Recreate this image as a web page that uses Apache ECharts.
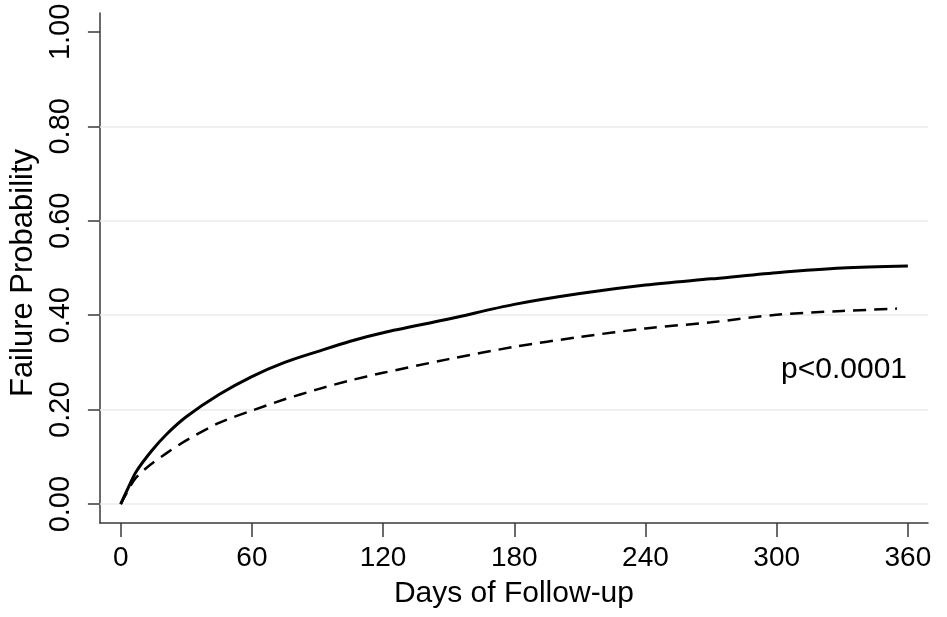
<!DOCTYPE html>
<html>
<head>
<meta charset="utf-8">
<script src="https://cdn.jsdelivr.net/npm/echarts@6/dist/echarts.min.js"></script>
<style>
  html, body { margin: 0; padding: 0; background: #fff; }
  #main { width: 947px; height: 617px; }
</style>
</head>
<body>
<div id="main"></div>
<script>
// days of follow-up and cumulative failure probability
var solidDays = [0, 3, 7, 14, 21, 30, 45, 60, 75, 90, 105, 120, 150, 180, 210, 240, 270, 300, 330, 360];
var solidProb = [0, 0.030, 0.068, 0.112, 0.148, 0.185, 0.232, 0.270, 0.300, 0.323, 0.345, 0.363, 0.392, 0.423, 0.446, 0.464, 0.477, 0.490, 0.500, 0.504];

var dashDays = [0, 3, 7, 14, 21, 30, 45, 60, 75, 90, 105, 120, 150, 180, 210, 240, 270, 300, 330, 355];
var dashProb = [0, 0.026, 0.056, 0.085, 0.108, 0.135, 0.172, 0.198, 0.222, 0.243, 0.262, 0.278, 0.307, 0.333, 0.354, 0.372, 0.385, 0.401, 0.409, 0.414];

var xTicks = [0, 60, 120, 180, 240, 300, 360];
var yTicks = [0, 0.2, 0.4, 0.6, 0.8, 1.0];
var gridValues = [0, 0.2, 0.4, 0.6, 0.8];
var pText = 'p<0.0001';

function pairs(xs, ys) {
  return xs.map(function (x, i) { return [x, ys[i]]; });
}

var FONT = '"Liberation Sans", Arial, Helvetica, sans-serif';

var chart = echarts.init(document.getElementById('main'));
chart.setOption({
  animation: false,
  backgroundColor: '#fff',
  grid: { left: 98, right: 19, top: 13, bottom: 94 },
  xAxis: {
    type: 'value',
    min: -9.5,
    max: 369.2,
    name: 'Days of Follow-up',
    nameLocation: 'middle',
    nameGap: 56,
    nameTextStyle: { fontFamily: FONT, fontSize: 30, color: '#000' },
    axisLine: { show: true, onZero: false, lineStyle: { color: '#3a3a3a', width: 1.5 } },
    axisTick: { show: true, length: 14, customValues: xTicks, lineStyle: { color: '#3a3a3a', width: 1.5 } },
    axisLabel: {
      customValues: xTicks,
      margin: 21,
      fontFamily: FONT,
      fontSize: 28,
      color: '#000'
    },
    splitLine: { show: false }
  },
  yAxis: {
    type: 'value',
    min: -0.04,
    max: 1.04,
    name: 'Failure Probability',
    nameLocation: 'middle',
    nameGap: 55,
    nameTextStyle: { fontFamily: FONT, fontSize: 31, color: '#000', padding: [0, 10, 0, 0] },
    axisLine: { show: true, onZero: false, lineStyle: { color: '#3a3a3a', width: 1.5 } },
    axisTick: { show: true, length: 12, customValues: yTicks, lineStyle: { color: '#3a3a3a', width: 1.5 } },
    axisLabel: {
      customValues: yTicks,
      rotate: 90,
      margin: 24,
      fontFamily: FONT,
      fontSize: 29,
      color: '#000',
      formatter: function (v) { return v.toFixed(2); }
    },
    splitLine: { show: false }
  },
  graphic: [{
    type: 'text',
    right: 40,
    top: 355,
    style: { text: pText, fontFamily: FONT, fontSize: 30, fill: '#000' }
  }],
  series: [
    {
      name: 'solid',
      type: 'line',
      data: pairs(solidDays, solidProb),
      smooth: 0.3,
      showSymbol: false,
      lineStyle: { color: '#000', width: 3 },
      z: 3,
      markLine: {
        silent: true,
        symbol: 'none',
        label: { show: false },
        lineStyle: { color: '#ebebeb', width: 1.5, type: 'solid' },
        data: gridValues.map(function (v) { return { yAxis: v }; }),
        z: 1
      }
    },
    {
      name: 'dashed',
      type: 'line',
      data: pairs(dashDays, dashProb),
      smooth: 0.3,
      showSymbol: false,
      lineStyle: { color: '#000', width: 2.5, type: [13, 8] },
      z: 3
    }
  ]
});
</script>
</body>
</html>
